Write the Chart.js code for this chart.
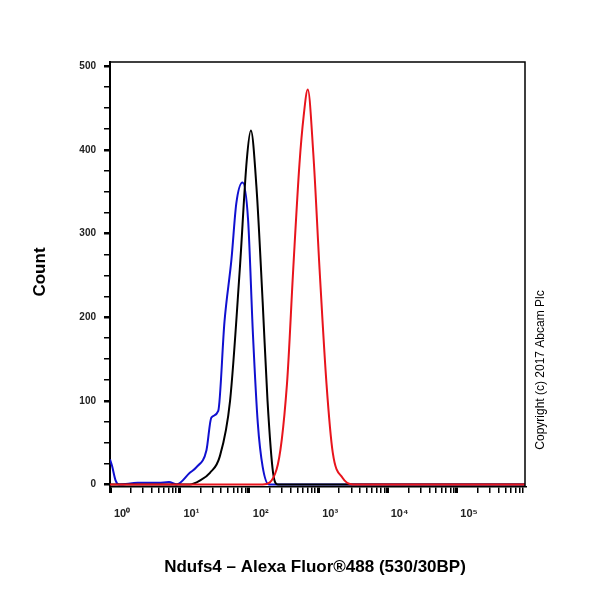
<!DOCTYPE html>
<html><head><meta charset="utf-8">
<script src="https://cdn.jsdelivr.net/npm/chart.js@4/dist/chart.umd.min.js"></script>
<style>html,body{margin:0;padding:0;background:#fff}#w{width:600px;height:600px}</style>
</head><body><div id="w"><canvas id="c"></canvas></div>
<script>
// x values are log10 of fluorescence
const blackX = [0,1.0,1.15,1.3,1.44,1.58,1.73,1.87,1.97,2.03,2.11,2.2,2.27,2.35,2.42,3,4,5,5.98];
const blackY = [0,0,0,5,14,33,100,257,387,423,356,218,100,14,0,0,0,0,0];
const blueX = [0,0.03,0.08,0.13,0.4,0.7,0.85,0.96,1.15,1.25,1.39,1.46,1.56,1.65,1.75,1.82,1.91,1.99,2.06,2.13,2.2,2.29,3,4,5,5.98];
const blueY = [30,22,5,0,2,2,3,0,14,21,41,80,88,195,269,336,361,316,179,73,21,0,0,0,0,0];
const redX = [0,1,2,2.2,2.4,2.55,2.64,2.73,2.79,2.85,2.93,3.02,3.12,3.21,3.35,3.5,4,5,5.98];
const redY = [0,0,0,0,18,120,257,383,440,472,395,257,120,38,8,0,0,0,0];
const xDecades = [0,1,2,3,4,5];
const xTickLabels = ["10⁰","10¹","10²","10³","10⁴","10⁵"];
const yTickLabels = [0,100,200,300,400,500];
const xTitle = "Ndufs4 – Alexa Fluor®488 (530/30BP)";
const yTitle = "Count";
const copyright = "Copyright (c) 2017 Abcam Plc";

const pts = (xs, ys) => xs.map((x, i) => ({x, y: ys[i]}));
const minorX = [];
for (let d = 0; d <= 5; d++) for (let k = 1; k <= 9; k++) { const v = d + Math.log10(k); if (v <= 5.98) minorX.push(v); }

const textPlugin = {
  id: 'texts',
  afterDraw(chart) {
    const ctx = chart.ctx, a = chart.chartArea;
    ctx.save();
    ctx.strokeStyle = '#000'; ctx.lineWidth = 1.5;
    ctx.beginPath(); ctx.moveTo(a.left, a.top); ctx.lineTo(a.right, a.top); ctx.lineTo(a.right, a.bottom); ctx.stroke();
    ctx.fillStyle = '#000';
    ctx.font = 'bold 17px Arial, "Liberation Sans"';
    ctx.textAlign = 'center'; ctx.textBaseline = 'middle';
    ctx.fillText(xTitle, 315, 567);
    ctx.translate(40, 272); ctx.rotate(-Math.PI/2);
    ctx.fillText(yTitle, 0, 0);
    ctx.restore();
    ctx.save();
    ctx.fillStyle = '#000';
    ctx.font = '12px Arial, "Liberation Sans"';
    ctx.textAlign = 'center'; ctx.textBaseline = 'middle';
    ctx.translate(541, 370); ctx.rotate(-Math.PI/2);
    ctx.fillText(copyright, 0, 0);
    ctx.restore();
  }
};

new Chart(document.getElementById('c'), {
  type: 'line',
  data: { datasets: [
    { data: pts(redX, redY), borderColor: '#e8141c', borderWidth: 2, pointRadius: 0, cubicInterpolationMode: 'monotone' },
    { data: pts(blackX, blackY), borderColor: '#000', borderWidth: 2, pointRadius: 0, cubicInterpolationMode: 'monotone' },
    { data: pts(blueX, blueY), borderColor: '#1010d0', borderWidth: 2, pointRadius: 0, cubicInterpolationMode: 'monotone' }
  ]},
  options: {
    responsive: true, maintainAspectRatio: false, animation: false,
    layout: { padding: { top: 62, right: 75, left: 0, bottom: 0 } },
    plugins: { legend: { display: false }, tooltip: { enabled: false } },
    scales: {
      x: {
        type: 'linear', min: 0, max: 5.98,
        afterFit(s) { s.height = 113; },
        afterBuildTicks(s) { s.ticks = minorX.map(v => ({value: v})); },
        border: { color: '#000', width: 1.5 },
        grid: { drawOnChartArea: false, tickLength: 6, color: '#000',
          lineWidth: c => (Math.abs(c.tick.value - Math.round(c.tick.value)) < 1e-6 ? 3 : 1.5) },
        ticks: { autoSkip: false, maxRotation: 0, padding: 14, labelOffset: 12, color: '#222',
          font: { size: 11, weight: 'bold', family: 'Arial' },
          callback: v => { const i = xDecades.findIndex(d => Math.abs(d - v) < 1e-6); return i >= 0 ? xTickLabels[i] : ''; } }
      },
      y: {
        min: -3, max: 505,
        afterFit(s) { s.width = 110; },
        afterBuildTicks(s) { const t = []; for (let v = 0; v <= 500; v += 25) t.push({value: v}); s.ticks = t; },
        border: { color: '#000', width: 2 },
        grid: { drawOnChartArea: false, tickLength: 6, color: '#000',
          lineWidth: c => (c.tick.value % 100 === 0 ? 2.5 : 1.5) },
        ticks: { autoSkip: false, padding: 8, color: '#222',
          font: { size: 10, weight: 'bold', family: 'Arial' },
          callback: v => (yTickLabels.includes(v) ? String(v) : '') }
      }
    }
  },
  plugins: [textPlugin]
});
</script></body></html>
